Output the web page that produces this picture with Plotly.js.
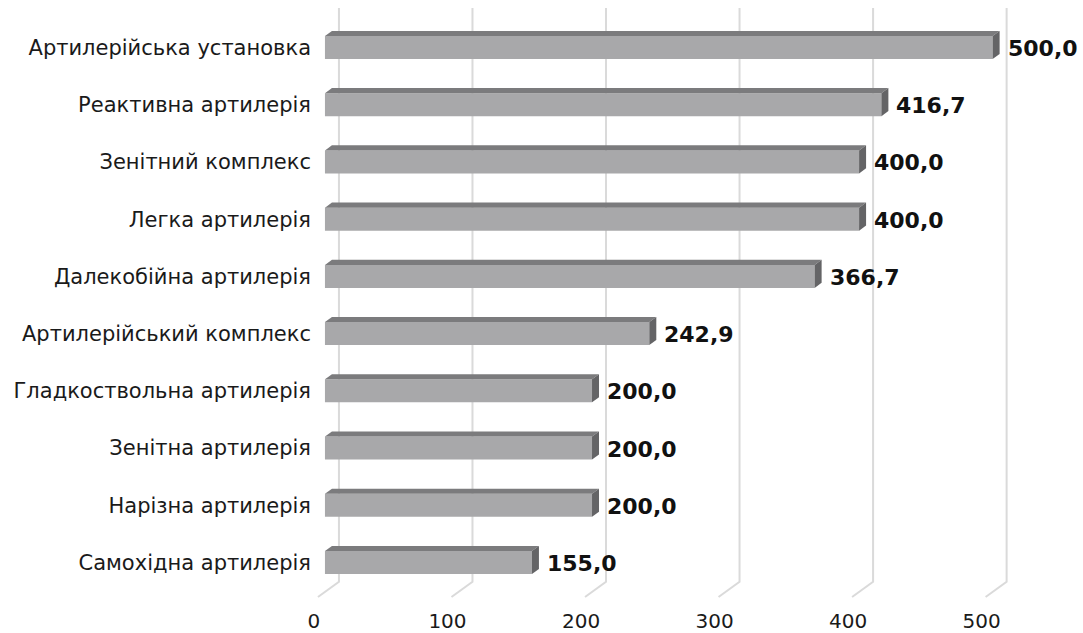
<!DOCTYPE html>
<html>
<head>
<meta charset="utf-8">
<script src="https://cdn.plot.ly/plotly-3.0.1.min.js"></script>
<style>
  html, body { margin: 0; padding: 0; background: #ffffff; }
  #chart { width: 1083px; height: 633px; }
</style>
</head>
<body>
<div id="chart"></div>
<script>
// Categories, top to bottom
const categories = [
  'Артилерійська установка',
  'Реактивна артилерія',
  'Зенітний комплекс',
  'Легка артилерія',
  'Далекобійна артилерія',
  'Артилерійський комплекс',
  'Гладкоствольна артилерія',
  'Зенітна артилерія',
  'Нарізна артилерія',
  'Самохідна артилерія'
];
const values = [500.0, 416.7, 400.0, 400.0, 366.7, 242.9, 200.0, 200.0, 200.0, 155.0];
const xTickValues = [0, 100, 200, 300, 400, 500];

// Plot frame
const W = 1083, H = 633;
const M = { l: 314, r: 14, t: 8, b: 36 };
const xRange = [-8.2, 557.2];
const yRange = [9.603, -0.69];
const plotW = W - M.l - M.r, plotH = H - M.t - M.b;
const pxPerX = plotW / (xRange[1] - xRange[0]);
const pxPerY = plotH / Math.abs(yRange[0] - yRange[1]);

// 3D look: depth step in pixels (front wall -> bar -> back wall)
const depthDx = 7, depthDy = 5.1;
const dxU = depthDx / pxPerX, dyU = depthDy / pxPerY;
const barWidth = 0.402, hw = barWidth / 2;

const idx = categories.map((_, i) => i);
const fmt = v => v.toFixed(1).replace('.', ',');

const shapes = [];

// Back-wall gridlines with floor diagonals
xTickValues.forEach(t => {
  shapes.push({
    type: 'path', layer: 'below',
    xref: 'x', xsizemode: 'pixel', xanchor: t,
    yref: 'paper', ysizemode: 'pixel', yanchor: 0,
    path: `M${-depthDx},0 L${2 * depthDx},${3 * depthDy} L${2 * depthDx},${plotH}`,
    line: { color: '#dadada', width: 2 }
  });
});

// Top and side faces of each bar
values.forEach((v, i) => {
  const yt = i - hw, yb = i + hw;
  shapes.push({
    type: 'path', layer: 'above', xref: 'x', yref: 'y',
    path: `M0,${yt} L${dxU},${yt - dyU} L${v + dxU},${yt - dyU} L${v},${yt} Z`,
    fillcolor: '#7b7b7d', line: { width: 0 }
  });
  shapes.push({
    type: 'path', layer: 'above', xref: 'x', yref: 'y',
    path: `M${v},${yt} L${v + dxU},${yt - dyU} L${v + dxU},${yb - dyU} L${v},${yb} Z`,
    fillcolor: '#646466', line: { width: 0 }
  });
});

// Value labels
const annotations = values.map((v, i) => ({
  x: v, y: i, xref: 'x', yref: 'y',
  text: fmt(v), showarrow: false,
  xanchor: 'left', yanchor: 'middle', xshift: 13, yshift: -1,
  font: { family: 'DejaVu Sans', size: 22, color: '#111111', weight: 'bold' }
}));

const trace = {
  type: 'bar', orientation: 'h',
  x: values, y: idx, base: 0, width: barWidth,
  marker: { color: '#a8a8aa', line: { width: 0 } },
  hoverinfo: 'skip'
};

const layout = {
  width: W, height: H,
  margin: M,
  paper_bgcolor: '#ffffff', plot_bgcolor: '#ffffff',
  showlegend: false,
  font: { family: 'DejaVu Sans', size: 20, color: '#1a1a1a' },
  xaxis: {
    range: xRange, tickvals: xTickValues, ticktext: xTickValues.map(String),
    showgrid: false, zeroline: false, showline: false, ticks: '',
    ticklabelshift: -11, ticklabelstandoff: 10,
    tickfont: { family: 'DejaVu Sans', size: 20, color: '#1a1a1a' },
    fixedrange: true
  },
  yaxis: {
    range: yRange, tickvals: idx, ticktext: categories,
    showgrid: false, zeroline: false, showline: false, ticks: '',
    ticklabelstandoff: 2,
    tickfont: { family: 'DejaVu Sans', size: 21, color: '#1a1a1a' },
    fixedrange: true
  },
  shapes: shapes,
  annotations: annotations
};

Plotly.newPlot('chart', [trace], layout, { displayModeBar: false, staticPlot: true });
</script>
</body>
</html>
